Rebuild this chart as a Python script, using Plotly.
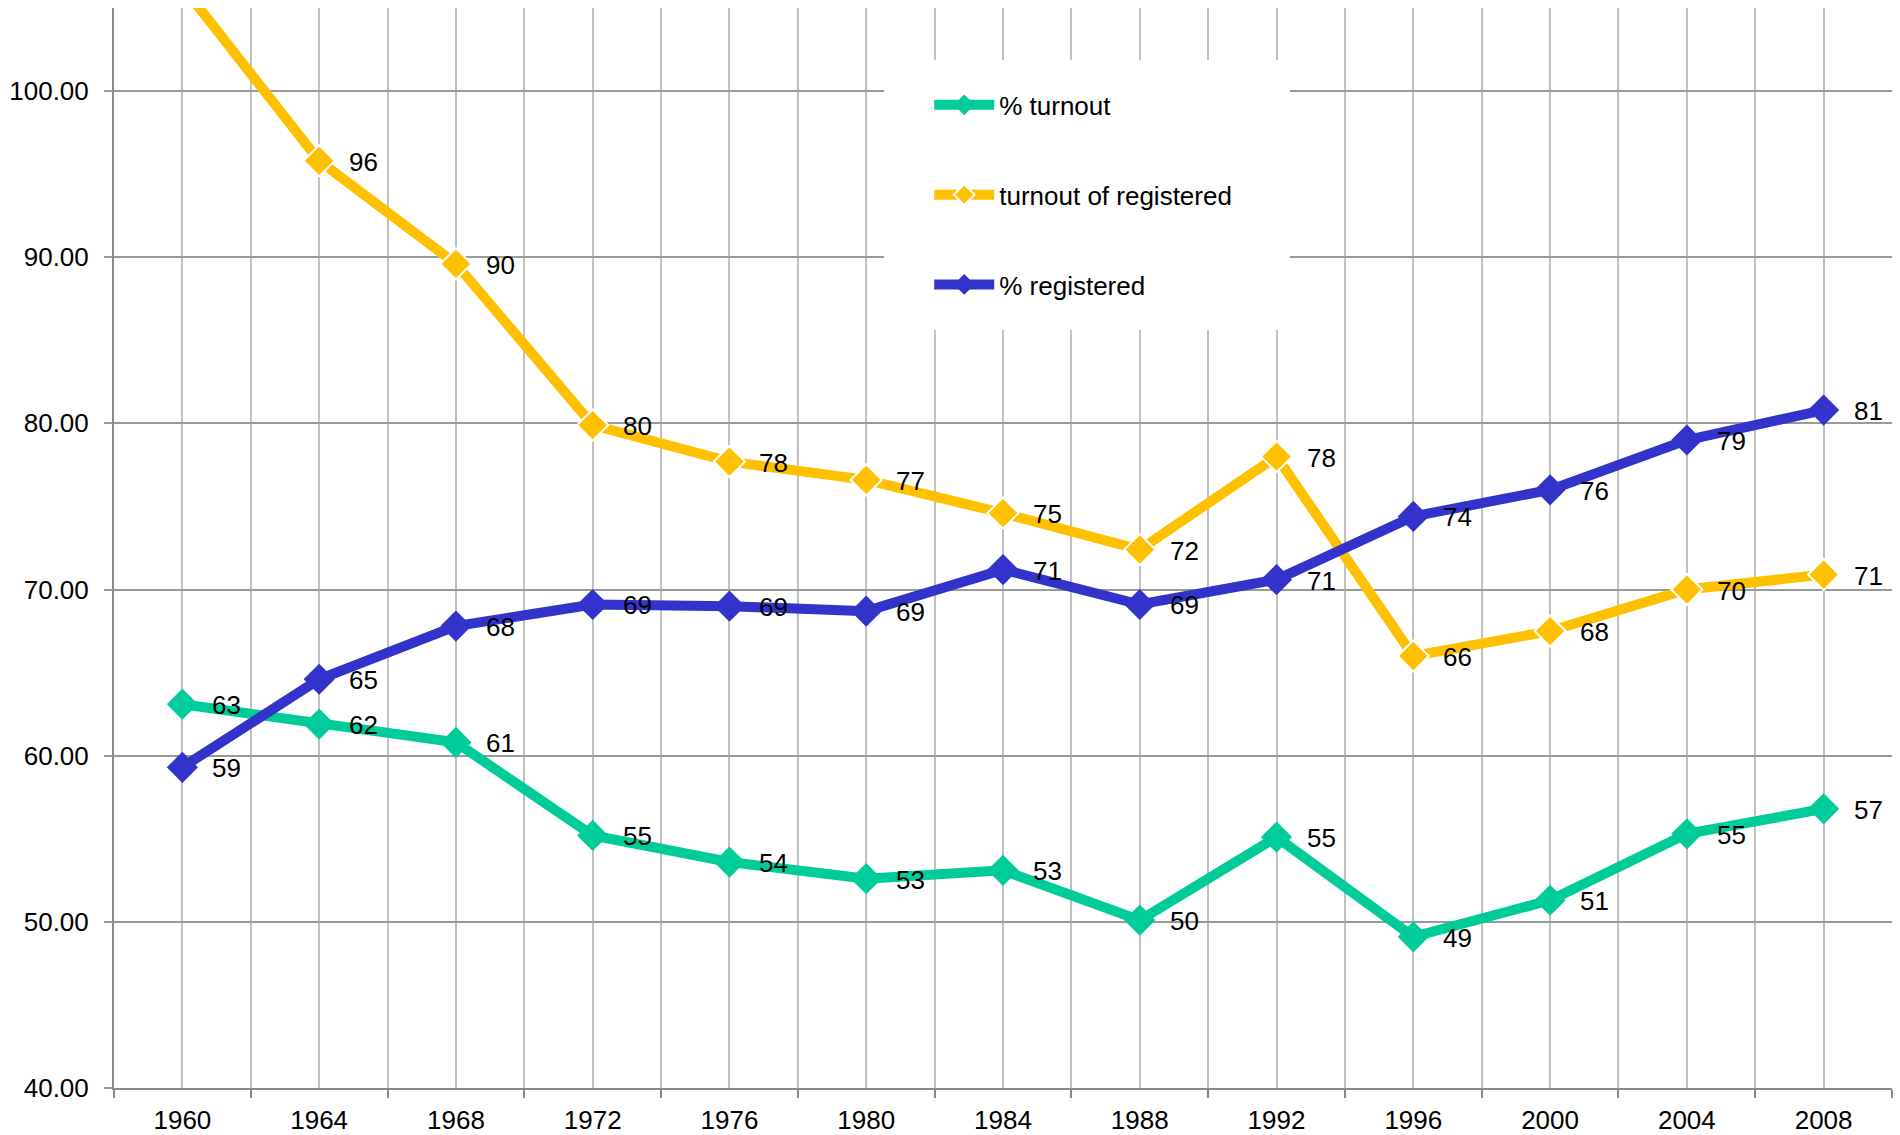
import plotly.graph_objects as go

# ---------------- data ----------------
years = [1960, 1964, 1968, 1972, 1976, 1980, 1984, 1988, 1992, 1996, 2000, 2004, 2008]
pct_turnout = [63.1, 61.9, 60.8, 55.2, 53.6, 52.6, 53.1, 50.1, 55.1, 49.1, 51.3, 55.3, 56.8]
turnout_of_registered = [106.3, 95.8, 89.6, 79.9, 77.7, 76.6, 74.6, 72.4, 78.0, 66.0, 67.5, 70.0, 70.9]
pct_registered = [59.3, 64.6, 67.8, 69.1, 69.0, 68.7, 71.2, 69.1, 70.6, 74.4, 76.0, 79.0, 80.8]
y_tick_values = [40, 50, 60, 70, 80, 90, 100]

series = [
    ("% turnout", pct_turnout, "rgb(0,204,153)", None),
    ("turnout of registered", turnout_of_registered, "rgb(255,192,0)", "white"),
    ("% registered", pct_registered, "rgb(51,51,204)", None),
]

Y_MIN, Y_MAX = 40, 105
FONT = "Liberation Sans, Arial, sans-serif"
FS = 26

fig = go.Figure()
annotations = []
for i, (name, vals, color, mline) in enumerate(series):
    marker = dict(symbol="diamond", size=24, color=color)
    if mline:
        marker["line"] = dict(color=mline, width=2)
    else:
        marker["line"] = dict(width=0)
    fig.add_trace(go.Scatter(
        x=years, y=vals, name=name, mode="lines+markers",
        line=dict(color=color, width=10),
        marker=marker, legendgroup=f"g{i}",
        cliponaxis=True,
    ))
    for x, v in zip(years, vals):
        if Y_MIN <= v <= Y_MAX:
            annotations.append(dict(
                x=x, y=v, xref="x", yref="y", text=str(int(v + 0.5)),
                showarrow=False, xanchor="left", yanchor="middle",
                xshift=28, yshift=-1,
                font=dict(family=FONT, size=FS, color="black"),
            ))

fig.update_layout(
    width=1900, height=1135,
    margin=dict(l=114, r=8, t=8, b=47, autoexpand=False),
    paper_bgcolor="white", plot_bgcolor="white",
    font=dict(family=FONT, size=FS, color="black"),
    showlegend=True,
    legend=dict(
        x=0.4585, xanchor="left", y=0.932, yanchor="top",
        bgcolor="rgba(0,0,0,0)", borderwidth=0,
        font=dict(family=FONT, size=FS, color="black"),
        tracegroupgap=53, itemwidth=60,
    ),
    annotations=annotations,
    shapes=[dict(
        type="rect", xref="paper", yref="paper",
        x0=0.4331, x1=0.6614, y0=0.7019, y1=0.9519,
        fillcolor="white", line=dict(width=0), layer="above",
    )],
    xaxis=dict(
        range=[1958, 2010], automargin=False,
        tickmode="array", tickvals=years, ticktext=[str(y) for y in years],
        ticks="", showgrid=True, gridcolor="#c0c0c0", gridwidth=2,
        showline=True, linecolor="#888888", linewidth=2,
        zeroline=False, ticklabelstandoff=8,
        minor=dict(tick0=1958, dtick=4, ticks="outside", ticklen=8,
                   tickcolor="#888888", tickwidth=2,
                   showgrid=True, gridcolor="#c0c0c0", gridwidth=2),
        tickfont=dict(family=FONT, size=FS, color="black"),
    ),
    yaxis=dict(
        range=[Y_MIN, Y_MAX], automargin=False,
        tickmode="array", tickvals=y_tick_values, tickformat=".2f",
        ticks="outside", ticklen=8, tickcolor="#999999", tickwidth=2,
        showgrid=True, gridcolor="#999999", gridwidth=2,
        showline=True, linecolor="#888888", linewidth=2,
        zeroline=False, ticklabelstandoff=10,
        tickfont=dict(family=FONT, size=FS, color="black"),
    ),
)

fig.write_html("out.html", config={"displayModeBar": False},
               post_script="document.body.style.margin='0px';")
